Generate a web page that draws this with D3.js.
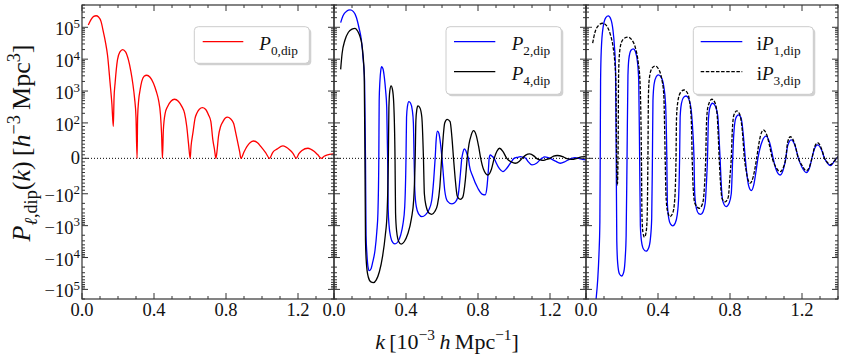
<!DOCTYPE html>
<html><head><meta charset="utf-8">
<script src="https://cdn.jsdelivr.net/npm/d3@7"></script>
<style>body{margin:0;background:#fff} svg{display:block} text{font-family:"Liberation Serif","Times New Roman",serif;fill:#111}</style>
</head><body><svg id="c" width="843" height="359"></svg>
<script>
// ---------------- data ----------------
const xTicks=[0,0.4,0.8,1.2];
const xTickLabels=["0.0","0.4","0.8","1.2"];
const yTicks=[1e5,1e4,1e3,1e2,0,-1e2,-1e3,-1e4,-1e5];
const yTickExp=[5,4,3,2,null,2,3,4,5];

const kP0=[0.035,0.05,0.065,0.078,0.092,0.106,0.119,0.13,0.142,0.156,0.166,0.174,
0.178,0.184,0.197,0.211,0.226,0.242,0.258,0.272,0.282,0.292,0.300,0.306,
0.309,0.315,0.323,0.332,0.345,0.36,0.378,0.397,0.412,0.425,0.436,0.442,0.447,
0.452,0.462,0.475,0.494,0.514,0.535,0.555,0.570,0.582,0.592,0.601,
0.606,0.616,0.628,0.638,0.652,0.669,0.686,0.703,0.716,0.727,0.736,0.744,
0.75,0.758,0.770,0.783,0.795,0.808,0.825,0.842,0.855,0.866,0.876,0.883,
0.90,0.916,0.935,0.953,0.975,0.994,1.02,1.042,
1.06,1.083,1.116,1.153,1.172,1.19,
1.205,1.222,1.255,1.291,1.31,1.33,
1.345,1.365,1.385,1.40];
const P0=[1.18e5,1.75e5,2.2e5,2.3e5,2.1e5,1.5e5,7e4,3.5e4,1.3e4,1.8e3,400,90,
600,1.8e3,9.5e3,1.7e4,2.0e4,1.7e4,9.5e3,4e3,1.76e3,600,150,0,
150,525,1.1e3,2.0e3,2.9e3,3.13e3,2.7e3,1.76e3,1.0e3,525,180,70,0,
80,200,324,480,553,480,324,200,90,40,0,
35,71,140,201,270,301,270,178,110,52,25,0,
20,61,90,110,140,151,135,99,70,43,18,0,
18,33,45,49,44,33,16,0,
17,26,35,24,14,0,
13,22,28.5,19,10,0,
6,10,12,12.4];

const kP2=[0.037,0.05,0.07,0.089,0.108,0.125,0.14,0.152,0.162,0.170,0.175,
0.178,0.183,0.19,0.196,0.205,0.215,0.228,0.238,0.244,0.249,
0.251,0.255,0.26,0.265,0.272,0.28,0.287,0.293,0.298,
0.301,0.306,0.315,0.327,0.339,0.355,0.37,0.383,0.393,0.40,
0.403,0.408,0.416,0.425,0.435,0.441,0.445,
0.449,0.457,0.47,0.488,0.508,0.527,0.543,0.554,0.562,
0.568,0.575,0.583,0.592,0.60,
0.605,0.615,0.63,0.655,0.675,0.69,0.702,0.71,
0.716,0.723,0.732,0.74,0.747,
0.752,0.77,0.80,0.825,0.840,0.85,0.858,0.862,
0.868,0.878,0.89,
0.90,0.92,0.938,0.96,0.985,1.0,
1.02,1.035,1.05,1.065,
1.08,1.10,1.125,1.145,1.155,
1.17,1.185,1.2,
1.23,1.257,1.285,1.31,1.32,
1.34,1.36,1.38,1.405];
const P2=[1.4e5,2.3e5,3.2e5,3.5e5,3.1e5,2e5,9e4,4e4,1e4,2e3,0,
-2e3,-8e3,-2.1e4,-2.58e4,-2.3e4,-1.4e4,-5.8e3,-1.5e3,-400,0,
500,2e3,4.5e3,5.8e3,5e3,2.6e3,1e3,300,0,
-300,-1e3,-2.3e3,-3.4e3,-3.75e3,-3.2e3,-2e3,-900,-250,0,
150,330,466,420,250,100,0,
-90,-250,-430,-522,-460,-320,-160,-60,0,
55,77,70,40,0,
-30,-90,-170,-208,-180,-110,-45,0,
16,26.5,22,10,0,
-20,-50,-85,-105,-109,-80,-30,0,
9.6,6,0,
-12,-30,-37.5,-28,-10,0,
3,4.8,3,0,
-10,-18.6,-14,-4,0,
4,3,0,
-8,-13.8,-9,-2,0,
2,0,-3,-4.5];

const kP4=[0.037,0.045,0.061,0.08,0.1,0.117,0.132,0.145,0.154,0.162,0.168,0.172,
0.175,0.18,0.19,0.205,0.219,0.235,0.252,0.27,0.285,0.295,0.302,
0.305,0.31,0.317,0.325,0.332,0.339,
0.342,0.348,0.36,0.373,0.39,0.41,0.43,0.443,0.451,
0.455,0.46,0.466,0.477,0.488,0.497,
0.502,0.512,0.527,0.543,0.56,0.575,0.588,0.598,
0.605,0.615,0.629,0.645,0.655,0.664,
0.672,0.685,0.701,0.715,0.73,0.74,
0.75,0.762,0.775,0.79,0.803,0.815,
0.83,0.855,0.875,0.89,
0.905,0.92,0.94,0.96,
0.985,1.007,1.03,1.045,
1.065,1.087,1.11,1.125,
1.145,1.16,1.18,1.2,
1.22,1.24,1.27,1.29,
1.32,1.35,1.375,1.405];
const P4=[4.8e3,1.5e4,4e4,7e4,8.8e4,9.3e4,7.5e4,5e4,3.1e4,1.2e4,3e3,0,
-3e3,-1.5e4,-4e4,-5.8e4,-6.1e4,-5e4,-2.8e4,-9e3,-2e3,-400,0,
300,1000,1450,1100,400,0,
-400,-1500,-3200,-3800,-3200,-1800,-600,-150,0,
120,260,341,300,150,0,
-100,-250,-400,-440,-360,-220,-80,0,
50,100,130,110,60,0,
-50,-120,-151,-130,-60,0,
40,65,78,65,35,0,
-30,-47,-30,0,
20,28.5,18,0,
-10,-13.8,-8,0,
9,12.4,7,0,
-4,-6,-3,0,
6,8,5,0,
-3,0,4,4.8];

const kP1=[0.045,0.056,0.065,0.072,0.077,0.079,
0.081,0.085,0.095,0.11,0.124,0.138,0.150,0.158,0.164,0.168,
0.171,0.176,0.186,0.198,0.21,0.218,0.223,0.228,
0.233,0.238,0.25,0.263,0.275,0.286,0.293,0.298,
0.302,0.308,0.32,0.334,0.348,0.358,0.365,0.369,
0.372,0.378,0.39,0.402,0.418,0.432,0.442,0.449,
0.452,0.46,0.47,0.482,0.495,0.507,0.515,0.52,
0.523,0.53,0.542,0.556,0.57,0.583,0.593,0.60,
0.604,0.614,0.626,0.638,0.65,0.662,0.67,0.675,
0.68,0.688,0.703,0.718,0.732,0.74,0.745,
0.75,0.76,0.779,0.795,0.807,0.815,
0.82,0.832,0.847,0.862,0.875,0.885,
0.895,0.905,0.918,0.932,0.945,0.955,
0.965,0.98,1.0,1.02,1.04,
1.055,1.079,1.097,1.11,
1.12,1.14,1.162,1.18,
1.2,1.224,1.243,1.255,
1.27,1.287,1.31,1.325,
1.342,1.357,1.38,1.392,1.40];
const iP1=[-6e5,-2e5,-5e4,-8e3,-800,0,
2e3,2e4,1e5,2e5,2.27e5,1.8e5,8e4,2.5e4,5e3,0,
-3e3,-1.5e4,-3.3e4,-3.8e4,-2.8e4,-1e4,-2e3,0,
3e3,1e4,1.9e4,2.1e4,1.7e4,8e3,2e3,0,
-1e3,-3e3,-5.5e3,-6.3e3,-5e3,-2.5e3,-600,0,
500,1.6e3,2.8e3,3.2e3,2.7e3,1.4e3,400,0,
-200,-600,-900,-1020,-850,-450,-120,0,
150,400,630,700,580,300,80,0,
-100,-300,-420,-440,-370,-200,-60,0,
120,300,414,340,170,50,0,
-60,-170,-253,-200,-100,0,
60,140,178,140,60,0,
-50,-80,-91,-75,-35,0,
25,50,63,45,0,
-30,-47,-30,0,
35,52,35,0,
-25,-40,-25,0,
28,38,22,0,
-14,-20.6,-8,0,4.8];

const kP3=[0.037,0.05,0.07,0.093,0.115,0.135,0.15,0.16,0.166,0.170,0.174,0.178,
0.181,0.186,0.198,0.215,0.235,0.255,0.275,0.29,0.3,0.308,
0.311,0.316,0.325,0.334,0.34,0.344,
0.347,0.352,0.365,0.384,0.402,0.42,0.432,0.44,
0.444,0.452,0.467,0.482,0.493,0.50,
0.503,0.51,0.525,0.545,0.562,0.576,0.585,0.59,
0.595,0.605,0.63,0.648,0.658,0.665,
0.67,0.678,0.699,0.715,0.728,0.735,0.74,
0.746,0.756,0.773,0.79,0.8,0.807,
0.813,0.822,0.838,0.855,0.868,0.88,
0.89,0.9,0.912,0.93,0.948,
0.96,0.97,0.986,1.005,1.02,1.035,
1.055,1.079,1.097,1.11,
1.12,1.135,1.16,1.18,
1.2,1.224,1.243,1.255,
1.27,1.287,1.31,1.325,
1.342,1.357,1.38,1.392,1.40];
const iP3=[3.2e4,7e4,1.15e5,1.34e5,1.1e5,6e4,2.5e4,8e3,2e3,0,-75,0,
3e3,1.5e4,3.5e4,4.6e4,4.9e4,4e4,2.2e4,8e3,2e3,0,
-500,-1.6e3,-2.3e3,-1.6e3,-500,0,
800,2.5e3,5e3,6.1e3,5e3,2.5e3,800,0,
-100,-330,-522,-400,-150,0,
150,450,900,1080,900,450,120,0,
-80,-200,-285,-200,-80,0,
120,330,553,450,200,60,0,
-60,-140,-179,-130,-50,0,
80,180,238,180,80,0,
-35,-60,-70,-50,0,
40,65,80,65,35,0,
-25,-37.5,-25,0,
45,61,40,0,
-20,-35,-22,0,
32,44,25,0,
-12,-18,-7,0,5];

// ---------------- layout ----------------
const svg=d3.select("#c");
svg.append("rect").attr("width",843).attr("height",359).attr("fill","#fff");
const panelX=[82,334,586], PW=252, yTop=5, yBot=299;
const LT=100, LS=1/(1-1/10);
function T(v){const a=Math.abs(v);const t=a<=LT?a/LT*LS:LS+Math.log10(a/LT);return v<0?-t:t;}
const yT=d3.scaleLinear().domain([T(-2e5),T(5e5)]).range([yBot,yTop]);
const y=v=>yT(T(v));
const AX="#333";

function rich(g,x,yb,segs,size,anchor){
  const t=g.append("text").attr("x",x).attr("y",yb).attr("font-size",size).attr("text-anchor",anchor||"start");
  let cur=0;
  segs.forEach(s=>{
    const sh=s.sub?size*0.27:s.sup?-size*0.4:0;
    const ts=t.append("tspan").text(s.t).attr("dy",sh-cur);
    if(s.sub||s.sup) ts.attr("font-size",size*0.7);
    if(s.it) ts.attr("font-style","italic");
    cur=sh;
  });
  return t;
}

// minor y ticks
const yMinor=[];
for(let n=2;n<=4;n++) for(let m=2;m<=9;m++){yMinor.push(m*10**n,-m*10**n);}
for(let m=2;m<=5;m++) yMinor.push(m*1e5);
yMinor.push(-2e5);
for(let m=1;m<=9;m++){yMinor.push(m*10,-m*10);}
const xMinor=d3.range(0,15).map(i=>i/10).filter(v=>!xTicks.some(t=>Math.abs(t-v)<1e-9));

const series=[
  [{k:kP0,v:P0,c:"#ff0000",d:null}],
  [{k:kP2,v:P2,c:"#0000ff",d:null},{k:kP4,v:P4,c:"#000",d:null}],
  [{k:kP1,v:iP1,c:"#0000ff",d:null},{k:kP3,v:iP3,c:"#000",d:"3.5,1.6"}]
];

panelX.forEach((x0,i)=>{
  const xs=d3.scaleLinear().domain([0,1.4]).range([x0,x0+PW]);
  const g=svg.append("g");
  const cid="clip"+i;
  svg.append("clipPath").attr("id",cid).append("rect").attr("x",x0).attr("y",yTop).attr("width",PW).attr("height",yBot-yTop);
  g.append("line").attr("x1",x0).attr("x2",x0+PW).attr("y1",y(0)).attr("y2",y(0))
    .attr("stroke","#000").attr("stroke-width",1).attr("stroke-dasharray","1,2");
  const cg=g.append("g").attr("clip-path",`url(#${cid})`);
  series[i].forEach(s=>{
    const line=d3.line().x(j=>xs(s.k[j])).y(j=>y(s.v[j])).curve(d3.curveMonotoneX);
    cg.append("path").attr("d",line(d3.range(s.k.length))).attr("fill","none")
      .attr("stroke",s.c).attr("stroke-width",1.3).attr("stroke-dasharray",s.d);
  });
  g.append("rect").attr("x",x0).attr("y",yTop).attr("width",PW).attr("height",yBot-yTop)
    .attr("fill","none").attr("stroke",AX).attr("stroke-width",1.2);
  const tk=g.append("g").attr("stroke",AX).attr("stroke-width",1);
  xTicks.forEach(t=>{const X=xs(t);
    tk.append("line").attr("x1",X).attr("x2",X).attr("y1",yBot).attr("y2",yBot-6);
    tk.append("line").attr("x1",X).attr("x2",X).attr("y1",yTop).attr("y2",yTop+6);});
  xMinor.forEach(t=>{const X=xs(t);
    tk.append("line").attr("x1",X).attr("x2",X).attr("y1",yBot).attr("y2",yBot-3);
    tk.append("line").attr("x1",X).attr("x2",X).attr("y1",yTop).attr("y2",yTop+3);});
  yTicks.forEach(t=>{const Y=y(t);
    tk.append("line").attr("x1",x0).attr("x2",x0+6).attr("y1",Y).attr("y2",Y);
    tk.append("line").attr("x1",x0+PW).attr("x2",x0+PW-6).attr("y1",Y).attr("y2",Y);});
  yMinor.forEach(t=>{const Y=y(t);
    tk.append("line").attr("x1",x0).attr("x2",x0+3).attr("y1",Y).attr("y2",Y);
    tk.append("line").attr("x1",x0+PW).attr("x2",x0+PW-3).attr("y1",Y).attr("y2",Y);});
  xTicks.forEach((t,j)=>{
    g.append("text").attr("x",xs(t)).attr("y",316).attr("font-size",18.5).attr("text-anchor","middle").text(xTickLabels[j]);
  });
});

yTicks.forEach((t,j)=>{
  const Y=y(t);
  if(yTickExp[j]===null){
    svg.append("text").attr("x",80).attr("y",Y+6).attr("font-size",18.5).attr("text-anchor","end").text("0");
  } else {
    rich(svg,80,Y+8,[{t:(t<0?"\u221210":"10")},{t:String(yTickExp[j]),sup:true}],18.5,"end");
  }
});

rich(svg,447,349,[{t:"k",it:true},{t:"\u2009[10"},{t:"\u22123",sup:true},{t:"\u2009"},{t:"h",it:true},{t:"\u2009Mpc"},{t:"\u22121",sup:true},{t:"]"}],22,"middle");
const yl=svg.append("g").attr("transform","translate(30,143) rotate(-90)");
rich(yl,0,0,[{t:"P",it:true},{t:"\u2113",it:true,sub:true},{t:",dip",sub:true},{t:"("},{t:"k",it:true},{t:")\u2009[",},{t:"h",it:true},{t:"\u22123",sup:true},{t:"\u2009Mpc"},{t:"3",sup:true},{t:"]"}],26,"middle");

const legends=[
  {x:194.3,y:26.7,w:115,h:36.6,lx:202.7,lw:40.6,tx:259.3,items:[{c:"#ff0000",d:null,pre:"",sub:"0,dip"}]},
  {x:446,y:26.7,w:115.3,h:67.6,lx:454,lw:41.3,tx:511.7,items:[{c:"#0000ff",d:null,pre:"",sub:"2,dip"},{c:"#000",d:null,pre:"",sub:"4,dip"}]},
  {x:693.3,y:26.7,w:120,h:67.6,lx:700.7,lw:41.6,tx:756.7,items:[{c:"#0000ff",d:null,pre:"i",sub:"1,dip"},{c:"#000",d:"3.5,1.6",pre:"i",sub:"3,dip"}]}
];
legends.forEach(L=>{
  const g=svg.append("g");
  g.append("rect").attr("x",L.x+2).attr("y",L.y+2).attr("width",L.w).attr("height",L.h).attr("rx",4)
    .attr("fill","#000").attr("opacity",0.18);
  g.append("rect").attr("x",L.x).attr("y",L.y).attr("width",L.w).attr("height",L.h).attr("rx",4)
    .attr("fill","#fff").attr("stroke","#ccc").attr("stroke-width",1);
  L.items.forEach((it,j)=>{
    const Y=41.7+j*30;
    g.append("line").attr("x1",L.lx).attr("x2",L.lx+L.lw).attr("y1",Y).attr("y2",Y)
      .attr("stroke",it.c).attr("stroke-width",1.3).attr("stroke-dasharray",it.d);
    const segs=[];
    if(it.pre) segs.push({t:it.pre});
    segs.push({t:"P",it:true});
    segs.push({t:it.sub,sub:true});
    rich(g,L.tx,Y+8.5,segs,19,"start");
  });
});
</script></body></html>
